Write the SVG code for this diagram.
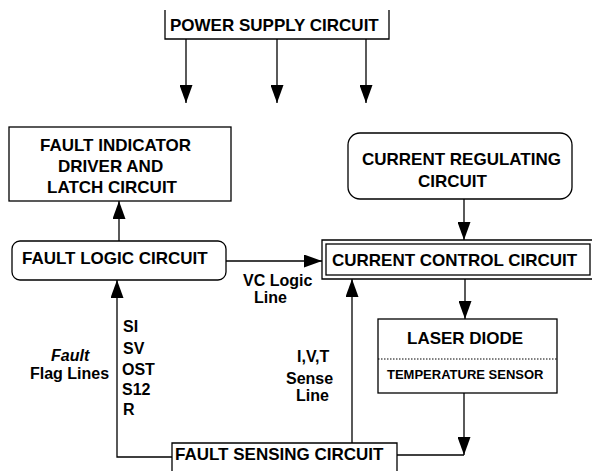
<svg xmlns="http://www.w3.org/2000/svg" width="592" height="471" viewBox="0 0 592 471">
<style>
.box{fill:#fff;stroke:#000;stroke-width:1.3}
.t{font-family:"Liberation Sans",Arial,sans-serif;font-weight:bold;font-size:17px;fill:#000}
.s{font-size:13px}
.l{font-family:"Liberation Sans",Arial,sans-serif;font-weight:bold;font-size:16px;fill:#000}
.c{fill:none;stroke:#000;stroke-width:1.3}
</style>
<defs>
<marker id="ah" viewBox="0 0 18 13" refX="18" refY="6.5" markerWidth="18" markerHeight="13" markerUnits="userSpaceOnUse" orient="auto">
<path d="M0,0 L18,6.5 L0,13 z" fill="#000"/>
</marker>
</defs>
<rect width="592" height="471" fill="#fff"/>
<g id="connectors">
<line class="c" x1="186" y1="39" x2="186" y2="103" marker-end="url(#ah)"/>
<line class="c" x1="277" y1="39" x2="277" y2="103" marker-end="url(#ah)"/>
<line class="c" x1="366" y1="39" x2="366" y2="103" marker-end="url(#ah)"/>
<line class="c" x1="119" y1="241" x2="119" y2="201" marker-end="url(#ah)"/>
<line class="c" x1="226" y1="261" x2="322" y2="261" marker-end="url(#ah)"/>
<line class="c" x1="464" y1="199" x2="464" y2="240" marker-end="url(#ah)"/>
<line class="c" x1="465" y1="279" x2="465" y2="319" marker-end="url(#ah)"/>
<line class="c" x1="464" y1="393" x2="464" y2="455" marker-end="url(#ah)"/>
<line class="c" x1="397" y1="455" x2="464" y2="455"/>
<path class="c" d="M172,457 H117 V280" marker-end="url(#ah)"/>
<line class="c" x1="352" y1="443" x2="352" y2="279" marker-end="url(#ah)"/>
</g>
<g id="power">
<path class="box" d="M165,10 V39 H389 V10"/>
<text class="t" x="170" y="31">POWER SUPPLY CIRCUIT</text>
</g>
<g id="fault-indicator">
<rect class="box" x="9" y="127" width="222" height="74"/>
<text class="t" x="40" y="151">FAULT INDICATOR</text>
<text class="t" x="58" y="172">DRIVER AND</text>
<text class="t" x="47" y="193">LATCH CIRCUIT</text>
</g>
<g id="fault-logic">
<rect class="box" x="12" y="241" width="214" height="39" rx="8"/>
<text class="t" x="22" y="264">FAULT LOGIC CIRCUIT</text>
</g>
<g id="current-regulating">
<rect class="box" x="348" y="133" width="224" height="66" rx="12"/>
<text class="t" x="362" y="165">CURRENT REGULATING</text>
<text class="t" x="418" y="187">CIRCUIT</text>
</g>
<g id="current-control">
<path class="box" d="M593,240 H322 V279 H593"/>
<rect class="box" x="326" y="244" width="264" height="31"/>
<text class="t" x="332" y="266">CURRENT CONTROL CIRCUIT</text>
</g>
<g id="laser-diode">
<rect class="box" x="378" y="319" width="179" height="74"/>
<line x1="378" y1="359" x2="557" y2="359" stroke="#000" stroke-width="1" stroke-dasharray="1.5,1.5"/>
<text class="t" x="407" y="344">LASER DIODE</text>
<text class="t s" x="387" y="379">TEMPERATURE SENSOR</text>
</g>
<g id="fault-sensing">
<path class="box" d="M172,475 V443 H397 V475"/>
<text class="t" x="175" y="460">FAULT SENSING CIRCUIT</text>
</g>
<g id="labels">
<text class="l" x="243" y="286">VC Logic</text>
<text class="l" x="254" y="303">Line</text>
<text class="l" x="297" y="362">I,V,T</text>
<text class="l" x="286" y="384">Sense</text>
<text class="l" x="296" y="401">Line</text>
<text class="l" x="123" y="332">SI</text>
<text class="l" x="123" y="354">SV</text>
<text class="l" x="122" y="375">OST</text>
<text class="l" x="122" y="395">S12</text>
<text class="l" x="123" y="415">R</text>
<text class="l" x="51" y="361" font-style="italic">Fault</text>
<text class="l" x="30" y="379">Flag Lines</text>
</g>
</svg>
